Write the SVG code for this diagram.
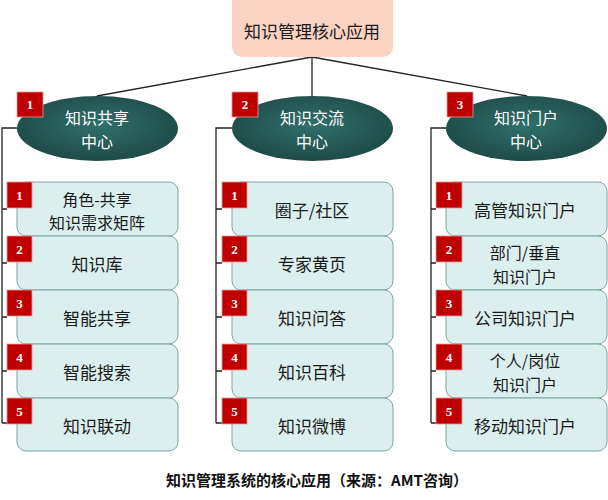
<svg xmlns="http://www.w3.org/2000/svg" width="608" height="500" viewBox="0 0 608 500">
<defs>
<radialGradient id="eg" cx="50%" cy="45%" r="60%">
<stop offset="0" stop-color="#30706b"/>
<stop offset="1" stop-color="#1d4845"/>
</radialGradient>
</defs>
<style>
.cn{font-family:"Noto Sans CJK SC","Noto Sans",sans-serif;font-size:17px;fill:#1a1a1a;text-anchor:middle}
.two{font-size:16px}
.en{font-family:"Noto Sans CJK SC","Noto Sans",sans-serif;font-size:16px;fill:#ffffff;text-anchor:middle}
.num{font-family:"Liberation Serif",serif;font-size:13px;fill:#ffffff;text-anchor:middle;font-weight:bold}
.badge{fill:#c00000;stroke:#e59a9a;stroke-width:0.8}
.box{fill:#dcefef;stroke:#7fa3a2;stroke-width:1}
.ell{fill:url(#eg)}
.ln{stroke:#222;stroke-width:1.3;fill:none}
.cap{font-family:"Noto Sans CJK SC","Noto Sans",sans-serif;font-size:15px;font-weight:bold;fill:#111;text-anchor:middle}
</style>
<rect width="608" height="500" fill="#ffffff"/>
<g id="connectors">
<path class="ln" d="M312,57 L97,96 M312,57 L312,96 M312,57 L527,96"/>
<path class="ln" d="M17,128 H2 V423 M2,209 H7 M2,263 H7 M2,317 H7 M2,371 H7 M2,423 H7"/>
<path class="ln" d="M232,128 H216 V423 M216,209 H222 M216,263 H222 M216,317 H222 M216,371 H222 M216,423 H222"/>
<path class="ln" d="M446,128 H431 V423 M431,209 H436 M431,263 H436 M431,317 H436 M431,371 H436 M431,423 H436"/>
</g>
<g id="root">
<rect x="232" y="-10" width="161" height="67" rx="10" fill="#fbd3c3"/>
<text class="cn" x="312" y="38">知识管理核心应用</text>
</g>
<g id="center1">
<ellipse class="ell" cx="97.5" cy="128.5" rx="80.5" ry="32.5"/>
<rect class="badge" x="17" y="92" width="26" height="25"/>
<text class="num" x="30" y="109">1</text>
<text class="en" x="97" y="124">知识共享<tspan x="97" dy="23.5">中心</tspan></text>
</g>
<g id="center2">
<ellipse class="ell" cx="312.5" cy="128.5" rx="80.5" ry="32.5"/>
<rect class="badge" x="232" y="92" width="26" height="25"/>
<text class="num" x="245" y="109">2</text>
<text class="en" x="312" y="124">知识交流<tspan x="312" dy="23.5">中心</tspan></text>
</g>
<g id="center3">
<ellipse class="ell" cx="526.5" cy="128.5" rx="80.5" ry="32.5"/>
<rect class="badge" x="447" y="92" width="26" height="25"/>
<text class="num" x="460" y="109">3</text>
<text class="en" x="526" y="124">知识门户<tspan x="526" dy="23.5">中心</tspan></text>
</g>
<g id="c1-items">
<g id="c1-1"><rect class="box" x="17" y="182" width="161" height="54" rx="9"/><rect class="badge" x="7" y="182" width="25" height="26"/><text class="num" x="19.5" y="200">1</text><text class="cn two" x="97" y="205.5">角色-共享<tspan x="97" dy="23.5">知识需求矩阵</tspan></text></g>
<g id="c1-2"><rect class="box" x="17" y="236" width="161" height="54" rx="9"/><rect class="badge" x="7" y="236" width="25" height="26"/><text class="num" x="19.5" y="254">2</text><text class="cn" x="97" y="271">知识库</text></g>
<g id="c1-3"><rect class="box" x="17" y="290" width="161" height="54" rx="9"/><rect class="badge" x="7" y="290" width="25" height="26"/><text class="num" x="19.5" y="308">3</text><text class="cn" x="97" y="325">智能共享</text></g>
<g id="c1-4"><rect class="box" x="17" y="344" width="161" height="54" rx="9"/><rect class="badge" x="7" y="344" width="25" height="26"/><text class="num" x="19.5" y="362">4</text><text class="cn" x="97" y="379">智能搜索</text></g>
<g id="c1-5"><rect class="box" x="17" y="398" width="161" height="53" rx="9"/><rect class="badge" x="7" y="398" width="25" height="26"/><text class="num" x="19.5" y="416">5</text><text class="cn" x="97" y="433">知识联动</text></g>
</g>
<g id="c2-items">
<g id="c2-1"><rect class="box" x="232" y="182" width="161" height="54" rx="9"/><rect class="badge" x="222" y="182" width="25" height="26"/><text class="num" x="234.5" y="200">1</text><text class="cn" x="312" y="217">圈子/社区</text></g>
<g id="c2-2"><rect class="box" x="232" y="236" width="161" height="54" rx="9"/><rect class="badge" x="222" y="236" width="25" height="26"/><text class="num" x="234.5" y="254">2</text><text class="cn" x="312" y="271">专家黄页</text></g>
<g id="c2-3"><rect class="box" x="232" y="290" width="161" height="54" rx="9"/><rect class="badge" x="222" y="290" width="25" height="26"/><text class="num" x="234.5" y="308">3</text><text class="cn" x="312" y="325">知识问答</text></g>
<g id="c2-4"><rect class="box" x="232" y="344" width="161" height="54" rx="9"/><rect class="badge" x="222" y="344" width="25" height="26"/><text class="num" x="234.5" y="362">4</text><text class="cn" x="312" y="379">知识百科</text></g>
<g id="c2-5"><rect class="box" x="232" y="398" width="161" height="53" rx="9"/><rect class="badge" x="222" y="398" width="25" height="26"/><text class="num" x="234.5" y="416">5</text><text class="cn" x="312" y="433">知识微博</text></g>
</g>
<g id="c3-items">
<g id="c3-1"><rect class="box" x="446" y="182" width="161" height="54" rx="9"/><rect class="badge" x="436" y="182" width="26" height="26"/><text class="num" x="449" y="200">1</text><text class="cn" x="525" y="217">高管知识门户</text></g>
<g id="c3-2"><rect class="box" x="446" y="236" width="161" height="54" rx="9"/><rect class="badge" x="436" y="236" width="26" height="26"/><text class="num" x="449" y="254">2</text><text class="cn two" x="525" y="259">部门/垂直<tspan x="525" dy="23.5">知识门户</tspan></text></g>
<g id="c3-3"><rect class="box" x="446" y="290" width="161" height="54" rx="9"/><rect class="badge" x="436" y="290" width="26" height="26"/><text class="num" x="449" y="308">3</text><text class="cn" x="525" y="325">公司知识门户</text></g>
<g id="c3-4"><rect class="box" x="446" y="344" width="161" height="54" rx="9"/><rect class="badge" x="436" y="344" width="26" height="26"/><text class="num" x="449" y="362">4</text><text class="cn two" x="525" y="367">个人/岗位<tspan x="525" dy="23.5">知识门户</tspan></text></g>
<g id="c3-5"><rect class="box" x="446" y="398" width="161" height="53" rx="9"/><rect class="badge" x="436" y="398" width="26" height="26"/><text class="num" x="449" y="416">5</text><text class="cn" x="525" y="433">移动知识门户</text></g>
</g>
<text id="caption" class="cap" x="317" y="486">知识管理系统的核心应用（来源：AMT咨询）</text>
</svg>
